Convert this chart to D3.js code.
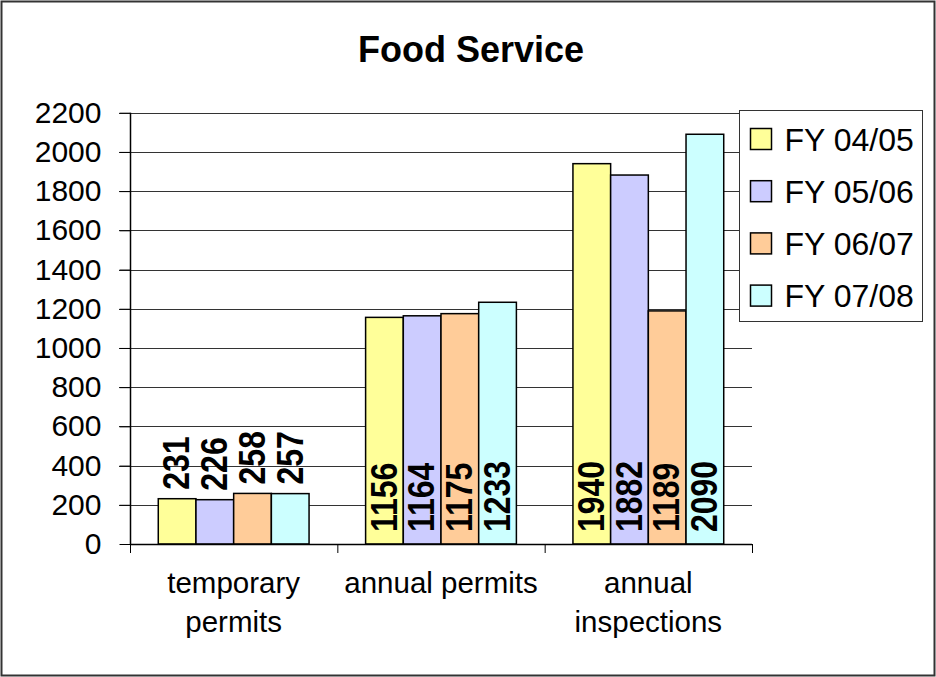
<!DOCTYPE html>
<html>
<head>
<meta charset="utf-8">
<script src="https://cdn.jsdelivr.net/npm/d3@7"></script>
<style>
  body { margin: 0; background: #fff; }
  text { font-family: "Liberation Sans", Arial, sans-serif; }
</style>
</head>
<body>
<div id="chart"></div>
<script>
// chart data
var categories = [["temporary", "permits"], ["annual permits"], ["annual", "inspections"]];
var seriesNames = ["FY 04/05", "FY 05/06", "FY 06/07", "FY 07/08"];
var seriesColors = ["#FFFF99", "#CCCCFF", "#FFCC99", "#CCFFFF"];
var values = [
    [231, 1156, 1940],   // FY 04/05
    [226, 1164, 1882],   // FY 05/06
    [258, 1175, 1189],   // FY 06/07
    [257, 1233, 2090]    // FY 07/08
];
var yTicks = [0, 200, 400, 600, 800, 1000, 1200, 1400, 1600, 1800, 2000, 2200];

var width = 936, height = 677;
var plot = { left: 130, right: 752, top: 112.7, bottom: 544 };

var svg = d3.select("#chart").append("svg")
    .attr("width", width)
    .attr("height", height);

// outer frame
svg.append("rect")
    .attr("x", 1.5).attr("y", 1.5)
    .attr("width", width - 3).attr("height", height - 3)
    .attr("fill", "#fff")
    .attr("stroke", "#333")
    .attr("stroke-width", 2);

// title
svg.append("text")
    .attr("x", 471).attr("y", 61.5)
    .attr("text-anchor", "middle")
    .attr("font-size", 36)
    .attr("font-weight", "bold")
    .text("Food Service");

var x0 = d3.scaleBand()
    .domain(d3.range(categories.length))
    .range([plot.left, plot.right]);

// gap width 150% -> group takes 4/5.5 of band
var groupW = x0.bandwidth() * 4 / 5.5;
var x1 = d3.scaleBand()
    .domain(d3.range(seriesNames.length))
    .range([(x0.bandwidth() - groupW) / 2, (x0.bandwidth() + groupW) / 2]);

var y = d3.scaleLinear()
    .domain([0, 2200])
    .range([plot.bottom, plot.top]);

// gridlines
svg.append("g")
    .selectAll("line")
    .data(yTicks.filter(d => d > 0))
    .enter()
    .append("line")
    .attr("x1", plot.left - 11)
    .attr("x2", plot.right)
    .attr("y1", d => Math.round(y(d)) + 0.5)
    .attr("y2", d => Math.round(y(d)) + 0.5)
    .attr("stroke", "#333")
    .attr("stroke-width", 1);

// y axis
var yAxis = d3.axisLeft(y)
    .tickValues(yTicks)
    .tickFormat(d3.format("d"))
    .tickSize(11)
    .tickPadding(18);
var yg = svg.append("g")
    .attr("transform", `translate(${plot.left + 0.5},0)`)
    .call(yAxis);
yg.select(".domain").remove();
yg.selectAll(".tick line").attr("stroke", "#000");
yg.selectAll(".tick text")
    .attr("font-size", 30)
    .attr("font-family", "Liberation Sans, Arial, sans-serif")
    .attr("fill", "#000");

// bars
var groups = svg.append("g")
    .selectAll("g")
    .data(seriesNames)
    .enter()
    .append("g");

groups.selectAll("rect")
    .data((s, i) => values[i].map((v, c) => ({ s: i, c: c, v: v })))
    .enter()
    .append("rect")
    .attr("x", d => x0(d.c) + x1(d.s))
    .attr("y", d => y(d.v))
    .attr("width", x1.bandwidth())
    .attr("height", d => y(0) - y(d.v))
    .attr("fill", d => seriesColors[d.s])
    .attr("stroke", "#000")
    .attr("stroke-width", 1.5);

// axis lines
svg.append("line")
    .attr("x1", plot.left + 0.5).attr("x2", plot.left + 0.5)
    .attr("y1", plot.top).attr("y2", plot.bottom)
    .attr("stroke", "#000").attr("stroke-width", 1.5);
svg.append("line")
    .attr("x1", plot.left).attr("x2", plot.right)
    .attr("y1", plot.bottom + 0.5).attr("y2", plot.bottom + 0.5)
    .attr("stroke", "#000").attr("stroke-width", 1.5);
svg.append("g")
    .selectAll("line")
    .data(d3.range(categories.length + 1))
    .enter()
    .append("line")
    .attr("x1", i => (i < categories.length ? x0(i) : plot.right) + 0.5)
    .attr("x2", i => (i < categories.length ? x0(i) : plot.right) + 0.5)
    .attr("y1", plot.bottom)
    .attr("y2", plot.bottom + 9)
    .attr("stroke", "#000");

// value labels: above for small bars, inside base for tall bars
groups.selectAll("text.val")
    .data((s, i) => values[i].map((v, c) => ({ s: i, c: c, v: v })))
    .enter()
    .append("text")
    .attr("class", "val")
    .attr("transform", d => {
        var cx = x0(d.c) + x1(d.s) + x1.bandwidth() / 2;
        var cy = d.c === 0 ? y(d.v) - 9 : y(0) - 12;
        return `translate(${cx},${cy}) rotate(-90) scale(1,1.13)`;
    })
    .attr("dy", "0.34em")
    .attr("font-size", 32)
    .attr("font-weight", "bold")
    .text(d => d.v);

// category labels
var catLabels = svg.append("g")
    .selectAll("text")
    .data(categories)
    .enter()
    .append("text")
    .attr("x", (d, i) => x0(i) + x0.bandwidth() / 2)
    .attr("y", 593)
    .attr("text-anchor", "middle")
    .attr("font-size", 29.5);
catLabels.selectAll("tspan")
    .data((d, i) => d.map(t => ({ t: t, i: i })))
    .enter()
    .append("tspan")
    .attr("x", d => x0(d.i) + x0.bandwidth() / 2)
    .attr("dy", (d, j) => j === 0 ? 0 : 38.5)
    .text(d => d.t);

// legend
var legend = svg.append("g").attr("transform", "translate(739.5,110.5)");
legend.append("rect")
    .attr("width", 183).attr("height", 211)
    .attr("fill", "#fff")
    .attr("stroke", "#333")
    .attr("stroke-width", 1);
var items = legend.selectAll("g")
    .data(seriesNames)
    .enter()
    .append("g")
    .attr("transform", (d, i) => `translate(0,${i * 52.2})`);
items.append("rect")
    .attr("x", 11).attr("y", 18)
    .attr("width", 21).attr("height", 21)
    .attr("fill", (d, i) => seriesColors[i])
    .attr("stroke", "#000")
    .attr("stroke-width", 1.5);
items.append("text")
    .attr("x", 45).attr("y", 40)
    .attr("font-size", 32)
    .text(d => d);
</script>
</body>
</html>
